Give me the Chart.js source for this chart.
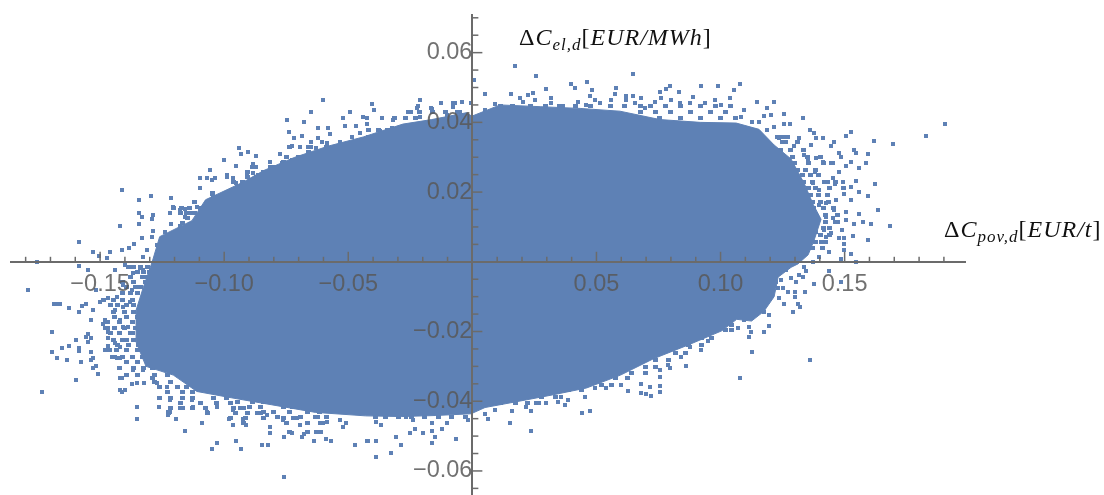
<!DOCTYPE html>
<html>
<head>
<meta charset="utf-8">
<script src="https://cdn.jsdelivr.net/npm/chart.js@4"></script>
<style>
  html, body { margin: 0; padding: 0; background: #fff; }
  #wrap { position: relative; width: 1104px; height: 495px; overflow: hidden; }
  .axisName { position: absolute; font-family: "Liberation Serif", serif; font-size: 24px; line-height: 28px; color: #111; white-space: nowrap; letter-spacing: 1px; }
  .axisName i { font-style: italic; }
  .axisName sub { font-size: 17px; line-height: 0; font-style: italic; vertical-align: -5px; }
</style>
</head>
<body>
<div id="wrap">
  <canvas id="chart" width="1104" height="495"></canvas>
  <div class="axisName" style="left:519px;top:23px">Δ<i>C</i><sub>el,d</sub>[<i>EUR/MWh</i>]</div>
  <div class="axisName" style="left:944px;top:215px">Δ<i>C</i><sub>pov,d</sub>[<i>EUR/t</i>]</div>
</div>
<script>
// tick values
const xLabelTicks = [-0.15, -0.10, -0.05, 0.05, 0.10, 0.15];
const yLabelTicks = [-0.06, -0.04, -0.02, 0.02, 0.04, 0.06];
const xMinorTicks = [-0.18, -0.17, -0.16, -0.14, -0.13, -0.12, -0.11, -0.09, -0.08, -0.07, -0.06, -0.04, -0.03, -0.02, -0.01,
  0.01, 0.02, 0.03, 0.04, 0.06, 0.07, 0.08, 0.09, 0.11, 0.12, 0.13, 0.14, 0.16, 0.17, 0.18, 0.19];
const yMinorTicks = [-0.065, -0.055, -0.05, -0.045, -0.035, -0.03, -0.025, -0.015, -0.01, -0.005,
  0.005, 0.01, 0.015, 0.025, 0.03, 0.035, 0.045, 0.05, 0.055, 0.065, 0.07];

// outline of the solid part of the cloud
const coreOutline = [[-0.0001,0.0418],[0.0112,0.0450],[0.0273,0.0445],[0.0434,0.0440],[0.0595,0.0432],[0.0756,0.0408],[0.0918,0.0400],[0.1063,0.0398],[0.1155,0.0380],[0.1216,0.0335],[0.1284,0.0295],[0.1337,0.0225],[0.1373,0.0165],[0.1405,0.0122],[0.1377,0.0062],[0.1353,0.0020],[0.1312,-0.0006],[0.1284,-0.0016],[0.1232,-0.0044],[0.1216,-0.0100],[0.1175,-0.0142],[0.1125,-0.0170],[0.1065,-0.0165],[0.1005,-0.0198],[0.0865,-0.0240],[0.0730,-0.0278],[0.0597,-0.0325],[0.0460,-0.0362],[0.0322,-0.0382],[0.0188,-0.0400],[0.0051,-0.0418],[-0.0005,-0.0436],[-0.0150,-0.0441],[-0.0287,-0.0444],[-0.0430,-0.0442],[-0.0632,-0.0432],[-0.0810,-0.0410],[-0.0972,-0.0390],[-0.1110,-0.0372],[-0.1205,-0.0325],[-0.1315,-0.0300],[-0.1355,-0.0230],[-0.1355,-0.0139],[-0.1328,-0.0078],[-0.1290,0.0000],[-0.1260,0.0072],[-0.1130,0.0118],[-0.1075,0.0178],[-0.0925,0.0228],[-0.0840,0.0262],[-0.0715,0.0300],[-0.0580,0.0332],[-0.0440,0.0358],[-0.0280,0.0395],[-0.0164,0.0408],[-0.0021,0.0428]];

const lowerLeftPoints = [[-0.1586,0.0056],[-0.1529,0.0028],[-0.1460,0.0028],[-0.1412,0.0034],[-0.1383,0.0039],[-0.1363,0.0051],[-0.1331,0.0068],[-0.1504,0.0016],[-0.1472,0.0011],[-0.1754,-0.0001],[-0.1585,-0.0012],[-0.1791,-0.0081],[-0.1686,-0.0121],[-0.1674,-0.0121],[-0.1662,-0.0121],[-0.1625,-0.0133],[-0.1585,-0.0144],[-0.1573,-0.0127],[-0.1557,-0.0121],[-0.1529,-0.0139],[-0.1537,-0.0167],[-0.1694,-0.0202],[-0.1597,-0.0225],[-0.1549,-0.0208],[-0.1557,-0.0216],[-0.1537,-0.0219],[-0.1549,-0.0230],[-0.1625,-0.0242],[-0.1654,-0.0248],[-0.1585,-0.0248],[-0.1585,-0.0256],[-0.1694,-0.0259],[-0.1674,-0.0276],[-0.1633,-0.0282],[-0.1577,-0.0288],[-0.1537,-0.0259],[-0.1529,-0.0276],[-0.1537,-0.0282],[-0.1517,-0.0299],[-0.1529,-0.0305],[-0.1508,-0.0322],[-0.1597,-0.0340],[-0.1734,-0.0374],[-0.1517,-0.0081],[-0.1549,-0.0024],[-0.1440,-0.0024],[-0.1468,-0.0104],[-0.1500,-0.0116],[-0.1480,-0.0167],[-0.1488,-0.0179],[-0.1468,-0.0173],[-0.1468,-0.0190],[-0.1468,-0.0202],[-0.1468,-0.0219],[-0.1468,-0.0242],[-0.1480,-0.0253],[-0.1460,-0.0253],[-0.1440,-0.0274],[-0.1420,-0.0276],[-0.1420,-0.0305],[-0.1420,-0.0334],[-0.1412,-0.0334],[-0.1420,-0.0368],[-0.1412,-0.0374],[-0.1400,-0.0368],[-0.1371,-0.0351],[-0.1351,-0.0348],[-0.1323,-0.0348],[-0.1351,-0.0417],[-0.1351,-0.0451],[-0.1263,-0.0417],[-0.1226,-0.0431],[-0.1226,-0.0440],[-0.1194,-0.0451],[-0.1158,-0.0486],[-0.1089,-0.0463],[-0.1029,-0.0520],[-0.1049,-0.0538],[-0.0952,-0.0515],[-0.0932,-0.0538],[-0.0848,-0.0526],[-0.0823,-0.0526],[-0.0759,-0.0618],[-0.0981,-0.0451],[-0.0964,-0.0469],[-0.0924,-0.0451],[-0.0912,-0.0469],[-0.0815,-0.0474],[-0.0815,-0.0492],[-0.0759,-0.0503],[-0.0727,-0.0492],[-0.0686,-0.0503],[-0.0678,-0.0494],[-0.0638,-0.0515],[-0.0630,-0.0489],[-0.0610,-0.0489],[-0.0590,-0.0509],[-0.0569,-0.0515],[-0.0473,-0.0526],[-0.0424,-0.0515],[-0.0521,-0.0474],[-0.0509,-0.0463],
  [-0.0964,-0.0426],[-0.0936,-0.0420],[-0.0868,-0.0434],[-0.0827,-0.0440],[-0.0763,-0.0454],[-0.0723,-0.0449],[-0.0694,-0.0469],[-0.0634,-0.0446],[-0.0614,-0.0463],[-0.0586,-0.0460],[-0.0533,-0.0454],[-0.1218,-0.0431],[-0.1178,-0.0420],[-0.1126,-0.0417],[-0.1069,-0.0431],[-0.1097,-0.0406],[-0.1130,-0.0397],[-0.1029,-0.0417],[-0.1259,-0.0391],[-0.1218,-0.0397],[-0.1271,-0.0348],[-0.1230,-0.0360],[-0.1367,-0.0311],[-0.1327,-0.0311],[-0.1432,-0.0276],[-0.1440,-0.0233],[-0.1392,-0.0225],[-0.1420,-0.0245],[-0.1367,-0.0205],[-0.1408,-0.0187],[-0.1440,-0.0139],[-0.1408,-0.0130],[-0.1379,-0.0116],[-0.1420,-0.0167],[-0.1387,-0.0187],[-0.1432,-0.0101],[-0.1371,-0.0081],[-0.1408,-0.0067],[-0.1367,-0.0032],[-0.1327,-0.0024],[-0.1400,-0.0009],[-0.1339,-0.0018],[-0.1327,0.0013],[-0.1271,0.0048],[-0.1246,0.0054],[-0.1311,0.0034]];

const upperLeftPoints = [[-0.0602,0.0464],[-0.0650,0.0430],[-0.0747,0.0407],[-0.0678,0.0401],[-0.0739,0.0372],[-0.0622,0.0384],[-0.0582,0.0384],[-0.0573,0.0366],[-0.0719,0.0355],[-0.0686,0.0361],[-0.0650,0.0344],[-0.0662,0.0329],[-0.0622,0.0355],[-0.0606,0.0344],[-0.0630,0.0326],[-0.0727,0.0332],[-0.0694,0.0329],[-0.0775,0.0309],[-0.0747,0.0300],[-0.0727,0.0292],[-0.0682,0.0300],[-0.0686,0.0283],[-0.0658,0.0280],[-0.0815,0.0286],[-0.0795,0.0272],[-0.0767,0.0283],[-0.0940,0.0326],[-0.0904,0.0315],[-0.0932,0.0309],[-0.0872,0.0303],[-0.1001,0.0292],[-0.0952,0.0275],[-0.0884,0.0280],[-0.0872,0.0272],[-0.1057,0.0263],[-0.1097,0.0240],[-0.1069,0.0240],[-0.1037,0.0240],[-0.1049,0.0234],[-0.0989,0.0249],[-0.0989,0.0243],[-0.0964,0.0240],[-0.0952,0.0226],[-0.0908,0.0255],[-0.0884,0.0255],[-0.0864,0.0249],[-0.0835,0.0257],[-0.0827,0.0234],[-0.0896,0.0234],[-0.0924,0.0214],[-0.1097,0.0212],[-0.1049,0.0194],[-0.1037,0.0186],[-0.1005,0.0186],[-0.0964,0.0194],[-0.1412,0.0206],[-0.1343,0.0177],[-0.1295,0.0189],[-0.1214,0.0183],[-0.1118,0.0171],[-0.1109,0.0157],[-0.1206,0.0157],[-0.1218,0.0140],[-0.1178,0.0148],[-0.1158,0.0151],[-0.1138,0.0140],[-0.1158,0.0128],[-0.1343,0.0140],[-0.1331,0.0128],[-0.1287,0.0134],[-0.1291,0.0123],[-0.1343,0.0108],[-0.1420,0.0102],[-0.1214,0.0108],[-0.1287,0.0088],[-0.1291,0.0071],[-0.1238,0.0085],[-0.1178,0.0102],[-0.1138,0.0108],[-0.1097,0.0120],[-0.1069,0.0148],[-0.0521,0.0412],[-0.0493,0.0430],[-0.0404,0.0453],[-0.0396,0.0435],[-0.0513,0.0389],[-0.0469,0.0389],[-0.0424,0.0395],[-0.0440,0.0415],[-0.0424,0.0412],[-0.0364,0.0412],[-0.0320,0.0407],[-0.0211,0.0464],[-0.0259,0.0430],[-0.0223,0.0441],[-0.0162,0.0438],[-0.0126,0.0455],[-0.0078,0.0455],[-0.0042,0.0458],[-0.0078,0.0444],[-0.0050,0.0430],[-0.0102,0.0421],[-0.0211,0.0415],[-0.0372,0.0375],[-0.0324,0.0384],[-0.0263,0.0375],[-0.0453,0.0369],[-0.0485,0.0358],[-0.0533,0.0344],[-0.0586,0.0341],[-0.0219,0.0447],[-0.0166,0.0441],[-0.0070,0.0455]];

const upperRightPoints = [[0.0172,0.0562],[0.0257,0.0533],[0.0648,0.0539],[0.0398,0.0510],[0.0414,0.0499],[0.0462,0.0516],[0.0297,0.0496],[0.0482,0.0493],[0.0579,0.0499],[0.0797,0.0504],[0.0781,0.0496],[0.0922,0.0504],[0.0990,0.0504],[0.1055,0.0493],[0.0756,0.0487],[0.0833,0.0487],[0.0575,0.0481],[0.0559,0.0464],[0.0619,0.0476],[0.0648,0.0476],[0.0619,0.0464],[0.0680,0.0470],[0.0760,0.0470],[0.0736,0.0458],[0.0156,0.0481],[0.0051,0.0481],[0.0245,0.0484],[0.0224,0.0478],[0.0253,0.0464],[0.0192,0.0470],[0.0204,0.0458],[0.0317,0.0470],[0.0317,0.0455],[0.0474,0.0476],[0.0494,0.0464],[0.0515,0.0455],[0.0426,0.0458],[0.0458,0.0450],[0.0366,0.0447],[0.0091,0.0453],[0.0051,0.0435],[0.0007,0.0521],[-0.0005,0.0455],[0.0889,0.0473],[0.0938,0.0455],[0.0978,0.0464],[0.1039,0.0470],[0.0801,0.0464],[0.0837,0.0455],[0.0877,0.0455],[0.1002,0.0450],[0.0656,0.0455],[0.0696,0.0441],
  [0.1079,0.0510],[0.1147,0.0458],[0.1216,0.0458],[0.1095,0.0435],[0.1083,0.0415],[0.1188,0.0441],[0.1256,0.0424],[0.1176,0.0418],[0.1204,0.0421],[0.1333,0.0412],[0.1127,0.0401],[0.1155,0.0401],[0.1256,0.0395],[0.1280,0.0395],[0.1188,0.0378],[0.1216,0.0387],[0.1361,0.0378],[0.1377,0.0369],[0.1526,0.0372],[0.1506,0.0361],[0.1413,0.0355],[0.1385,0.0355],[0.1458,0.0344],[0.1446,0.0332],[0.1619,0.0346],[0.1695,0.0338],[0.1828,0.0361],[0.1905,0.0395],[0.1317,0.0355],[0.1296,0.0332],[0.1236,0.0355],[0.1264,0.0344],[0.1365,0.0335],[0.1538,0.0321],[0.1546,0.0312],[0.1595,0.0309],[0.1478,0.0312],[0.1486,0.0300],[0.1587,0.0283],[0.1526,0.0286],[0.1506,0.0275],[0.1558,0.0269],[0.1446,0.0283],[0.1413,0.0286],[0.1385,0.0298],[0.1337,0.0306],[0.1353,0.0292],[0.1478,0.0257],[0.1381,0.0257],[0.1417,0.0229],[0.1454,0.0240],[0.1494,0.0229],[0.1546,0.0232],[0.1623,0.0223],[0.1526,0.0214],[0.1462,0.0223],[0.1498,0.0194],[0.1558,0.0200],[0.1595,0.0189],[0.1526,0.0177],[0.1466,0.0177],[0.1635,0.0148],[0.1458,0.0148],[0.1558,0.0137],[0.1506,0.0143],[0.1425,0.0168],[0.1397,0.0163],[0.1397,0.0206],[0.1373,0.0226],[0.1425,0.0128],[0.1454,0.0125],[0.1474,0.0114],[0.1506,0.0120],[0.1538,0.0108],[0.1575,0.0114],[0.1607,0.0108],[0.1683,0.0102],[0.1490,0.0091],[0.1534,0.0074],[0.1478,0.0068],[0.1498,0.0068],[0.1595,0.0062],[0.1498,0.0051],[0.1417,0.0091],[0.1446,0.0082],[0.1425,0.0071],[0.1405,0.0057],[0.1385,0.0085],[0.1438,0.0028],[0.1526,0.0022],[0.1498,0.0034],[0.1397,0.0013],[0.1373,-0.0001],[0.1486,0.0008],[0.1546,-0.0001]];

const lowerRightPoints = [[0.1284,-0.0007],[0.1264,-0.0024],[0.1284,-0.0047],[0.1305,-0.0058],[0.1337,-0.0015],[0.1345,-0.0027],[0.1317,-0.0038],[0.1333,-0.0044],[0.1438,-0.0027],[0.1377,-0.0064],[0.1486,-0.0058],[0.1341,-0.0087],[0.1301,-0.0087],[0.1301,-0.0101],[0.1272,-0.0087],[0.1252,-0.0075],[0.1224,-0.0058],[0.1244,-0.0053],[0.1232,-0.0075],[0.1236,-0.0104],[0.1256,-0.0121],[0.1313,-0.0121],[0.1321,-0.0130],[0.1292,-0.0144],[0.1176,-0.0144],[0.1196,-0.0153],[0.1147,-0.0147],[0.1095,-0.0167],[0.1196,-0.0184],[0.1176,-0.0202],[0.1115,-0.0187],[0.1123,-0.0202],[0.1115,-0.0216],[0.1071,-0.0190],[0.1127,-0.0259],[0.1361,-0.0282],[0.1079,-0.0334],[0.1022,-0.0196],[0.1002,-0.0187],[0.0922,-0.0253],[0.0950,-0.0228],[0.0877,-0.0245],[0.0841,-0.0274],[0.0861,-0.0299],[0.0789,-0.0296],[0.0797,-0.0305],[0.0756,-0.0311],[0.0756,-0.0331],[0.0756,-0.0357],[0.0756,-0.0374],[0.0716,-0.0360],[0.0720,-0.0385],[0.0680,-0.0351],[0.0680,-0.0377],[0.0700,-0.0380],[0.0627,-0.0371],[0.0599,-0.0354],[0.0539,-0.0362],[0.0494,-0.0362],[0.0454,-0.0388],[0.0474,-0.0428],[0.0442,-0.0434],[0.0386,-0.0397],[0.0374,-0.0411],[0.0345,-0.0403],[0.0357,-0.0388],[0.0297,-0.0406],[0.0257,-0.0406],[0.0237,-0.0428],[0.0237,-0.0486],[0.0216,-0.0417],[0.0160,-0.0428],[0.0152,-0.0463],[0.0091,-0.0426],[0.0051,-0.0437],[0.0063,-0.0451],[-0.0017,-0.0454],[-0.0066,-0.0509],[-0.0102,-0.0463],[-0.0122,-0.0480],[-0.0150,-0.0503],[-0.0162,-0.0520],[-0.0162,-0.0463],[-0.0162,-0.0486],[-0.0199,-0.0492],[-0.0231,-0.0480],[-0.0251,-0.0492],[-0.0287,-0.0526],[-0.0307,-0.0503],[-0.0328,-0.0549],[-0.0388,-0.0515],[-0.0420,-0.0515],[-0.0388,-0.0560],[-0.0368,-0.0469],[-0.0388,-0.0460],[-0.0267,-0.0446],[-0.0239,-0.0454]];

// denser points in the speckled band right at the edge of the cloud
const leftBandPoints = [[-0.1387,-0.0015],[-0.1367,-0.0015],[-0.1339,-0.0015],[-0.1311,-0.0015],[-0.1351,-0.0030],[-0.1327,-0.0030],[-0.1299,-0.0030],[-0.1379,-0.0044],[-0.1331,-0.0044],[-0.1307,-0.0044],[-0.1408,-0.0058],[-0.1367,-0.0058],[-0.1319,-0.0058],[-0.1392,-0.0073],[-0.1359,-0.0073],[-0.1339,-0.0073],[-0.1408,-0.0090],[-0.1379,-0.0090],[-0.1351,-0.0090],[-0.1488,-0.0110],[-0.1448,-0.0110],[-0.1408,-0.0110],[-0.1371,-0.0110],[-0.1460,-0.0124],[-0.1428,-0.0124],[-0.1392,-0.0124],[-0.1367,-0.0124],[-0.1448,-0.0144],[-0.1400,-0.0144],[-0.1367,-0.0144],[-0.1331,-0.0144],[-0.1440,-0.0159],[-0.1392,-0.0159],[-0.1351,-0.0159],[-0.1480,-0.0173],[-0.1420,-0.0173],[-0.1371,-0.0173],[-0.1347,-0.0173],[-0.1480,-0.0190],[-0.1440,-0.0190],[-0.1400,-0.0190],[-0.1359,-0.0190],[-0.1460,-0.0205],[-0.1420,-0.0205],[-0.1379,-0.0205],[-0.1339,-0.0205],[-0.1448,-0.0225],[-0.1408,-0.0225],[-0.1367,-0.0225],[-0.1428,-0.0239],[-0.1387,-0.0239],[-0.1347,-0.0239],[-0.1472,-0.0253],[-0.1432,-0.0253],[-0.1392,-0.0253],[-0.1351,-0.0253],[-0.1452,-0.0274],[-0.1408,-0.0274],[-0.1371,-0.0274],[-0.1331,-0.0274],[-0.1392,-0.0288],[-0.1351,-0.0288],[-0.1311,-0.0288],[-0.1420,-0.0305],[-0.1367,-0.0305],[-0.1327,-0.0305],[-0.1287,-0.0305],[-0.1392,-0.0325],[-0.1351,-0.0325],[-0.1279,-0.0325],[-0.1230,-0.0325]];

const bottomLeftBandPoints = [[-0.1287,-0.0334],[-0.1279,-0.0345],[-0.1218,-0.0345],[-0.1259,-0.0360],[-0.1190,-0.0360],[-0.1150,-0.0360],[-0.1097,-0.0360],[-0.1230,-0.0374],[-0.1166,-0.0374],[-0.1126,-0.0374],[-0.1259,-0.0391],[-0.1218,-0.0391],[-0.1166,-0.0391],[-0.1126,-0.0391],[-0.1045,-0.0391],[-0.0989,-0.0391],[-0.1178,-0.0406],[-0.1097,-0.0406],[-0.1029,-0.0406],[-0.0976,-0.0406],[-0.1218,-0.0420],[-0.1166,-0.0420],[-0.1126,-0.0420],[-0.1077,-0.0420],[-0.0964,-0.0420],[-0.0924,-0.0420],[-0.1226,-0.0434],[-0.1069,-0.0434],[-0.0956,-0.0434],[-0.0908,-0.0434],[-0.0855,-0.0434],[-0.0976,-0.0449],[-0.0916,-0.0449],[-0.0843,-0.0449],[-0.0763,-0.0449],[-0.0707,-0.0449],[-0.0948,-0.0403],[-0.0884,-0.0403],[-0.0843,-0.0403],[-0.0787,-0.0403],[-0.0896,-0.0417],[-0.0855,-0.0417],[-0.0763,-0.0417],[-0.0723,-0.0417],[-0.0654,-0.0417],[-0.0843,-0.0431],[-0.0803,-0.0431],[-0.0735,-0.0431],[-0.0666,-0.0431],[-0.0614,-0.0431],[-0.0787,-0.0446],[-0.0694,-0.0446],[-0.0626,-0.0446],[-0.0586,-0.0446],[-0.0924,-0.0463],[-0.0747,-0.0463],[-0.0666,-0.0463],[-0.0602,-0.0463],[-0.0735,-0.0489],[-0.0666,-0.0489],[-0.0626,-0.0489]];

const upperLeftBandPoints = [[-0.1206,0.0154],[-0.1170,0.0154],[-0.1138,0.0154],[-0.1097,0.0154],[-0.1057,0.0154],[-0.1178,0.0140],[-0.1150,0.0140],[-0.1118,0.0140],[-0.1077,0.0140],[-0.1146,0.0125],[-0.1109,0.0125],[-0.1085,0.0125],[-0.1166,0.0111],[-0.1118,0.0111],[-0.1089,0.0111],[-0.1118,0.0171],[-0.1069,0.0171],[-0.1029,0.0171],[-0.1045,0.0186],[-0.1005,0.0186],[-0.0964,0.0186],[-0.1049,0.0197],[-0.0956,0.0197],[-0.0924,0.0197],[-0.0948,0.0214],[-0.0916,0.0214],[-0.0964,0.0229],[-0.0928,0.0229],[-0.0888,0.0229],[-0.0855,0.0229],[-0.0908,0.0243],[-0.0868,0.0243],[-0.0827,0.0243],[-0.0787,0.0243],[-0.0908,0.0257],[-0.0843,0.0257],[-0.0803,0.0257],[-0.0763,0.0257],[-0.0884,0.0272],[-0.0815,0.0272],[-0.0775,0.0272],[-0.0735,0.0272],[-0.0763,0.0286],[-0.0723,0.0286],[-0.0686,0.0286],[-0.0654,0.0286],[-0.0747,0.0300],[-0.0702,0.0300],[-0.0654,0.0300],[-0.0622,0.0300],[-0.0662,0.0315],[-0.0614,0.0315],[-0.0573,0.0315],[-0.0735,0.0329],[-0.0654,0.0329],[-0.0586,0.0329],[-0.0545,0.0329],[-0.0505,0.0329]];

const rightBandPoints = [[0.1228,0.0358],[0.1248,0.0358],[0.1268,0.0358],[0.1248,0.0344],[0.1309,0.0344],[0.1240,0.0321],[0.1280,0.0321],[0.1333,0.0321],[0.1248,0.0300],[0.1288,0.0300],[0.1349,0.0300],[0.1401,0.0300],[0.1300,0.0283],[0.1353,0.0283],[0.1413,0.0283],[0.1450,0.0283],[0.1309,0.0263],[0.1341,0.0263],[0.1381,0.0263],[0.1329,0.0249],[0.1361,0.0249],[0.1393,0.0249],[0.1333,0.0229],[0.1369,0.0229],[0.1429,0.0229],[0.1462,0.0229],[0.1353,0.0212],[0.1381,0.0212],[0.1441,0.0212],[0.1494,0.0212],[0.1361,0.0191],[0.1393,0.0191],[0.1429,0.0191],[0.1369,0.0171],[0.1401,0.0171],[0.1433,0.0171],[0.1373,0.0154],[0.1413,0.0154],[0.1454,0.0154],[0.1381,0.0134],[0.1421,0.0134],[0.1470,0.0134],[0.1373,0.0114],[0.1421,0.0114],[0.1462,0.0114],[0.1369,0.0097],[0.1413,0.0097],[0.1441,0.0097],[0.1353,0.0077],[0.1401,0.0077],[0.1441,0.0077],[0.1333,0.0057],[0.1381,0.0057],[0.1421,0.0057],[0.1369,0.0039],[0.1409,0.0039]];

const topBandPoints = [[0.0112,0.0447],[0.0160,0.0447],[0.0233,0.0447],[0.0293,0.0447],[0.0353,0.0447],[0.0414,0.0447],[0.0474,0.0447],[0.0555,0.0447],[0.0615,0.0447],[0.0676,0.0447],[0.0716,0.0447],[0.0777,0.0447],[0.0837,0.0447],[0.0918,0.0447],[0.0978,0.0447],[0.1039,0.0447],[0.0676,0.0430],[0.0736,0.0430],[0.0797,0.0430],[0.0877,0.0430],[0.0958,0.0430],[0.1018,0.0430],[0.0756,0.0412],[0.0837,0.0412],[0.0918,0.0412],[0.0998,0.0412],[0.1059,0.0412],[-0.0251,0.0430],[-0.0211,0.0430],[-0.0162,0.0430],[-0.0110,0.0430],[-0.0058,0.0430],[-0.0312,0.0412],[-0.0271,0.0412],[-0.0231,0.0412],[-0.0420,0.0378],[-0.0380,0.0378],[-0.0340,0.0378],[-0.0299,0.0378],[-0.0420,0.0358],[-0.0372,0.0358],[-0.0324,0.0358]];

const lowerBandPoints = [[-0.0392,-0.0446],[-0.0352,-0.0446],[-0.0299,-0.0446],[-0.0247,-0.0446],[-0.0191,-0.0446],[-0.0138,-0.0446],[-0.0086,-0.0446],[-0.0029,-0.0446],[-0.0287,-0.0426],[-0.0231,-0.0426],[-0.0150,-0.0426],[-0.0098,-0.0426],[-0.0046,-0.0426],[0.0051,-0.0406],[0.0115,-0.0406],[0.0172,-0.0406],[0.0224,-0.0406],[0.0265,-0.0406],[0.0091,-0.0388],[0.0156,-0.0388],[0.0212,-0.0388],[0.0277,-0.0388],[0.0333,-0.0388],[0.0253,-0.0368],[0.0333,-0.0368],[0.0386,-0.0368],[0.0438,-0.0368],[0.0374,-0.0354],[0.0438,-0.0354],[0.0519,-0.0354],[0.0559,-0.0354],[0.0494,-0.0334],[0.0575,-0.0334],[0.0627,-0.0334],[0.0575,-0.0319],[0.0640,-0.0319],[0.0696,-0.0319],[0.0627,-0.0302],[0.0696,-0.0302],[0.0736,-0.0302],[0.0696,-0.0282],[0.0736,-0.0282],[0.0789,-0.0282],[0.0760,-0.0262],[0.0817,-0.0262],[0.0857,-0.0262],[0.0817,-0.0239],[0.0869,-0.0239],[0.0922,-0.0239],[0.0881,-0.0219],[0.0922,-0.0219],[0.0962,-0.0219],[0.0978,-0.0196],[0.1018,-0.0196],[0.1043,-0.0196],[0.1002,-0.0182],[0.1043,-0.0182]];

const toXY = p => ({ x: p[0], y: p[1] });
const pointColor = '#5e81b5';
const axisColor = '#6b6b6b';
const labelColor = 'rgba(88, 88, 88, 0.85)';

const formatTick = v => (v < 0 ? '\u2212' : '') + Math.abs(v).toFixed(2);

// small filled blocks, chart.js 'rect' can only do squares
function makeMark(w, h) {
  const mark = document.createElement('canvas');
  mark.width = w;
  mark.height = h;
  const markCtx = mark.getContext('2d');
  markCtx.fillStyle = pointColor;
  markCtx.fillRect(0, 0, w, h);
  return mark;
}
const looseMark = makeMark(4, 4);
const bandMark = makeMark(5, 4);

// Chart.js has one tick length per axis, this axis has two and they point inwards
const tickMarks = {
  id: 'tickMarks',
  afterDraw(chart) {
    const { ctx, scales: { x, y } } = chart;
    const x0 = x.getPixelForValue(0);
    const y0 = y.getPixelForValue(0);
    ctx.save();
    ctx.strokeStyle = axisColor;
    ctx.lineWidth = 1.5;
    const hTick = (v, len) => {
      const px = x.getPixelForValue(v);
      ctx.beginPath(); ctx.moveTo(px, y0); ctx.lineTo(px, y0 - len); ctx.stroke();
    };
    const vTick = (v, len) => {
      const py = y.getPixelForValue(v);
      ctx.beginPath(); ctx.moveTo(x0, py); ctx.lineTo(x0 + len, py); ctx.stroke();
    };
    xLabelTicks.forEach(v => hTick(v, 10));
    xMinorTicks.forEach(v => hTick(v, 5));
    yLabelTicks.forEach(v => vTick(v, 10));
    yMinorTicks.forEach(v => vTick(v, 6));
    ctx.restore();
  }
};

const scatterSet = (pts, mark) => ({
  data: pts.map(toXY),
  pointStyle: mark,
  showLine: false
});

// axes sit inside the plot, they must not take room from it
const noRoom = axis => {
  axis.paddingTop = axis.paddingBottom = axis.paddingLeft = axis.paddingRight = 0;
  if (axis.isHorizontal()) axis.height = 0; else axis.width = 0;
};

new Chart(document.getElementById('chart'), {
  type: 'scatter',
  data: {
    datasets: [
      {
        data: coreOutline.map(toXY),
        showLine: true,
        fill: 'shape',
        backgroundColor: pointColor,
        borderColor: pointColor,
        borderWidth: 1,
        pointRadius: 0,
        tension: 0
      },
      scatterSet(lowerLeftPoints, looseMark),
      scatterSet(upperLeftPoints, looseMark),
      scatterSet(upperRightPoints, looseMark),
      scatterSet(lowerRightPoints, looseMark),
      scatterSet(leftBandPoints, bandMark),
      scatterSet(bottomLeftBandPoints, bandMark),
      scatterSet(upperLeftBandPoints, bandMark),
      scatterSet(rightBandPoints, bandMark),
      scatterSet(topBandPoints, bandMark),
      scatterSet(lowerBandPoints, bandMark)
    ]
  },
  options: {
    responsive: false,
    animation: false,
    layout: { autoPadding: false, padding: { left: 11, right: 139, top: 15, bottom: 0 } },
    plugins: { legend: { display: false }, tooltip: { enabled: false } },
    scales: {
      x: {
        type: 'linear',
        min: -0.1859,
        max: 0.1985,
        position: { y: 0 },
        afterBuildTicks: axis => { axis.ticks = xLabelTicks.map(value => ({ value })); },
        afterFit: noRoom,
        grid: { display: false, drawTicks: false },
        border: { display: true, color: axisColor, width: 2, z: 1 },
        ticks: {
          z: 1,
          autoSkip: false,
          maxRotation: 0,
          padding: 9,
          color: labelColor,
          font: { family: '"Liberation Sans", sans-serif', size: 23.5 },
          callback: formatTick
        }
      },
      y: {
        type: 'linear',
        min: -0.0669,
        max: 0.0708,
        position: { x: 0 },
        afterBuildTicks: axis => { axis.ticks = yLabelTicks.map(value => ({ value })); },
        afterFit: noRoom,
        grid: { display: false, drawTicks: false },
        border: { display: true, color: axisColor, width: 2, z: 1 },
        ticks: {
          z: 1,
          autoSkip: false,
          padding: 12,
          color: labelColor,
          font: { family: '"Liberation Sans", sans-serif', size: 23.5 },
          callback: formatTick
        }
      }
    }
  },
  plugins: [tickMarks]
});
</script>
</body>
</html>
